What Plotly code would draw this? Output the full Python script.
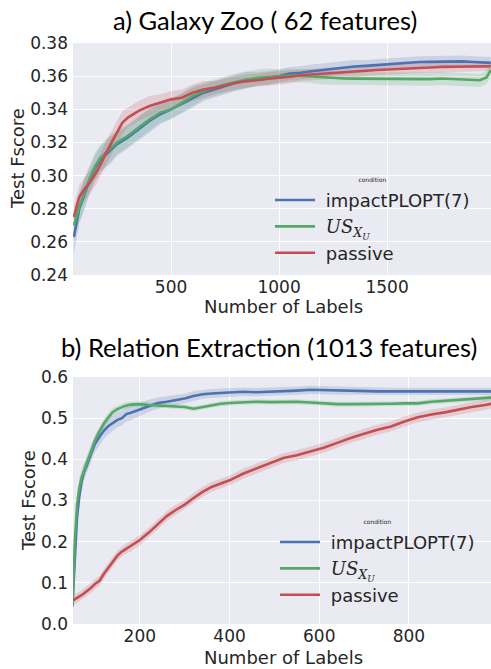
import plotly.graph_objects as go

# ---------------- data: a) Galaxy Zoo ----------------
x_a = [50, 75, 100, 125, 150, 175, 200, 225, 250, 275, 300, 350, 400, 450, 500, 550,
       600, 650, 700, 750, 800, 850, 900, 950, 1000, 1050, 1100, 1150, 1200, 1250, 1300,
       1350, 1400, 1450, 1500, 1550, 1600, 1650, 1700, 1750, 1800, 1850, 1900, 1930, 1960, 1980]
impact_a = [0.263, 0.280, 0.289, 0.298, 0.305, 0.310, 0.313, 0.316, 0.319, 0.321, 0.323, 0.328,
            0.333, 0.337, 0.340, 0.3435, 0.347, 0.350, 0.352, 0.354, 0.356, 0.3575, 0.3585, 0.359,
            0.360, 0.3615, 0.362, 0.363, 0.3638, 0.3645, 0.365, 0.3658, 0.3662, 0.3667, 0.367,
            0.3674, 0.368, 0.3685, 0.3686, 0.3688, 0.3687, 0.3689, 0.3685, 0.3683, 0.3682, 0.368]
us_a = [0.270, 0.281, 0.290, 0.299, 0.306, 0.311, 0.314, 0.317, 0.320, 0.322, 0.324, 0.329,
        0.334, 0.338, 0.340, 0.344, 0.348, 0.351, 0.353, 0.355, 0.3565, 0.358, 0.359, 0.3596,
        0.360, 0.3604, 0.3602, 0.3598, 0.359, 0.3588, 0.3586, 0.3585, 0.3584, 0.3584, 0.3583,
        0.3582, 0.3584, 0.3583, 0.3582, 0.3586, 0.3584, 0.358, 0.3577, 0.3575, 0.3592, 0.3637]
passive_a = [0.275, 0.287, 0.292, 0.296, 0.301, 0.307, 0.314, 0.320, 0.326, 0.332, 0.335, 0.339,
             0.342, 0.344, 0.346, 0.347, 0.350, 0.352, 0.353, 0.3545, 0.356, 0.357, 0.3575, 0.3585,
             0.359, 0.3596, 0.3605, 0.361, 0.3614, 0.362, 0.3622, 0.3627, 0.3632, 0.3637, 0.364,
             0.3642, 0.3646, 0.365, 0.3652, 0.3656, 0.3657, 0.3656, 0.3658, 0.366, 0.3661, 0.366]
impact_a_ci = [0.010, 0.009, 0.009, 0.008, 0.008, 0.008, 0.008, 0.008, 0.007, 0.007, 0.007, 0.007,
               0.007, 0.006, 0.006, 0.006, 0.006, 0.005, 0.005, 0.005, 0.005, 0.005, 0.004, 0.004,
               0.004, 0.004, 0.004, 0.004, 0.004, 0.004, 0.004, 0.004, 0.0035, 0.0035, 0.0035,
               0.0035, 0.0035, 0.0035, 0.0035, 0.0035, 0.0035, 0.0035, 0.0035, 0.0035, 0.0035, 0.0035]
us_a_ci = [0.010, 0.009, 0.009, 0.008, 0.008, 0.008, 0.008, 0.008, 0.007, 0.007, 0.007, 0.007,
           0.007, 0.006, 0.006, 0.006, 0.006, 0.005, 0.005, 0.005, 0.005, 0.005, 0.005, 0.005,
           0.004, 0.004, 0.004, 0.004, 0.004, 0.004, 0.004, 0.004, 0.004, 0.004, 0.004,
           0.004, 0.004, 0.004, 0.004, 0.004, 0.004, 0.004, 0.004, 0.004, 0.004, 0.004]
passive_a_ci = [0.007, 0.007, 0.007, 0.007, 0.007, 0.007, 0.007, 0.007, 0.007, 0.007, 0.006, 0.006,
                0.006, 0.005, 0.005, 0.005, 0.005, 0.005, 0.004, 0.004, 0.004, 0.004, 0.004, 0.004,
                0.004, 0.004, 0.0035, 0.0035, 0.0035, 0.0035, 0.0035, 0.0035, 0.003, 0.003, 0.003,
                0.003, 0.003, 0.003, 0.003, 0.003, 0.003, 0.003, 0.003, 0.003, 0.003, 0.003]

# ---------------- data: b) Relation Extraction ----------------
x_b = [50, 55, 60, 65, 70, 75, 80, 90, 100, 110, 120, 130, 140, 150, 160, 170, 180, 190, 200,
       220, 240, 260, 280, 300, 320, 340, 360, 380, 400, 430, 460, 490, 520, 550, 580, 610,
       640, 670, 700, 730, 760, 790, 820, 850, 880, 910, 940, 970, 985]
impact_b = [0.05, 0.17, 0.26, 0.31, 0.345, 0.368, 0.38, 0.41, 0.438, 0.455, 0.470, 0.481, 0.488,
            0.496, 0.500, 0.510, 0.513, 0.517, 0.521, 0.530, 0.537, 0.540, 0.544, 0.548, 0.554,
            0.558, 0.560, 0.561, 0.562, 0.564, 0.563, 0.564, 0.566, 0.567, 0.569, 0.568, 0.567,
            0.566, 0.566, 0.565, 0.565, 0.565, 0.565, 0.565, 0.565, 0.565, 0.565, 0.565, 0.565]
us_b = [0.042, 0.20, 0.29, 0.33, 0.355, 0.372, 0.385, 0.415, 0.445, 0.468, 0.487, 0.502, 0.515,
        0.522, 0.527, 0.531, 0.533, 0.534, 0.534, 0.532, 0.531, 0.530, 0.529, 0.527, 0.523,
        0.527, 0.532, 0.535, 0.537, 0.539, 0.540, 0.539, 0.539, 0.540, 0.538, 0.536, 0.534,
        0.534, 0.534, 0.535, 0.535, 0.536, 0.536, 0.540, 0.542, 0.544, 0.546, 0.548, 0.550]
passive_b = [0.057, 0.060, 0.062, 0.066, 0.070, 0.074, 0.078, 0.087, 0.097, 0.105, 0.122, 0.136,
             0.152, 0.166, 0.176, 0.183, 0.188, 0.196, 0.204, 0.222, 0.242, 0.262, 0.277, 0.290,
             0.306, 0.321, 0.333, 0.341, 0.349, 0.365, 0.378, 0.390, 0.403, 0.410, 0.419, 0.428,
             0.440, 0.452, 0.462, 0.472, 0.480, 0.492, 0.502, 0.509, 0.514, 0.521, 0.527, 0.532, 0.535]
impact_b_ci = [0.015, 0.03, 0.03, 0.025, 0.022, 0.02, 0.02, 0.02, 0.02, 0.02, 0.02, 0.02, 0.018,
               0.018, 0.018, 0.018, 0.018, 0.016, 0.016, 0.015, 0.014, 0.013, 0.012, 0.012, 0.012,
               0.011, 0.011, 0.011, 0.011, 0.01, 0.01, 0.01, 0.01, 0.01, 0.01, 0.01, 0.01,
               0.01, 0.009, 0.009, 0.009, 0.009, 0.009, 0.009, 0.009, 0.009, 0.009, 0.009, 0.009]
us_b_ci = [0.015, 0.03, 0.03, 0.025, 0.02, 0.018, 0.016, 0.015, 0.014, 0.013, 0.012, 0.011, 0.01,
           0.009, 0.008, 0.008, 0.007, 0.007, 0.007, 0.006, 0.006, 0.006, 0.006, 0.006, 0.006,
           0.006, 0.006, 0.006, 0.006, 0.006, 0.006, 0.006, 0.006, 0.006, 0.006, 0.006, 0.006,
           0.006, 0.006, 0.006, 0.006, 0.006, 0.006, 0.006, 0.006, 0.006, 0.006, 0.006, 0.006]
passive_b_ci = [0.012, 0.012, 0.012, 0.012, 0.012, 0.012, 0.012, 0.012, 0.012, 0.012, 0.012, 0.012,
                0.012, 0.012, 0.012, 0.012, 0.012, 0.012, 0.012, 0.012, 0.012, 0.012, 0.012, 0.012,
                0.012, 0.012, 0.012, 0.012, 0.012, 0.012, 0.012, 0.012, 0.012, 0.012, 0.012, 0.012,
                0.012, 0.012, 0.012, 0.012, 0.012, 0.012, 0.012, 0.012, 0.012, 0.012, 0.012, 0.012, 0.012]

series_names = ["\u00a0impactPLOPT(7)",
                "\u00a0<span style='font-family:DejaVu Serif'><i>US<sub>X<sub>U</sub></sub></i></span>",
                "\u00a0passive"]
colors = ["#4C72B0", "#55A868", "#C44E52"]
band_colors = ["rgba(76,114,176,0.2)", "rgba(85,168,104,0.2)", "rgba(196,78,82,0.2)"]

titles = ["a) Galaxy Zoo ( 62 features)", "b) Relation Extraction (1013 features)"]

W, H = 491, 669
TXT = "#262626"
SANS = "DejaVu Sans"

def px(p):
    return p / W

def py(p):
    return 1 - p / H

fig = go.Figure()

panels = [
    (x_a, [impact_a, us_a, passive_a], [impact_a_ci, us_a_ci, passive_a_ci], "x", "y", "legend"),
    (x_b, [impact_b, us_b, passive_b], [impact_b_ci, us_b_ci, passive_b_ci], "x2", "y2", "legend2"),
]

for xs, ys_list, ci_list, xa, ya, lg in panels:
    for i, (ys, ci) in enumerate(zip(ys_list, ci_list)):
        upper = [v + c for v, c in zip(ys, ci)]
        lower = [v - c for v, c in zip(ys, ci)]
        fig.add_trace(go.Scatter(
            x=list(xs) + list(xs)[::-1], y=upper + lower[::-1],
            fill="toself", fillcolor=band_colors[i], line=dict(width=0),
            mode="lines", hoverinfo="skip", showlegend=False, xaxis=xa, yaxis=ya))
    for i, ys in enumerate(ys_list):
        fig.add_trace(go.Scatter(
            x=xs, y=ys, mode="lines", name=series_names[i],
            line=dict(color=colors[i], width=2.6), xaxis=xa, yaxis=ya, legend=lg))

xdom = [px(73), 1.0]

axis_common = dict(showgrid=True, gridcolor="white", gridwidth=1.2, zeroline=False,
                   showline=False, ticks="", automargin=False,
                   tickfont=dict(family=SANS, size=17, color=TXT))

fig.update_layout(
    width=W, height=H, margin=dict(l=0, r=0, t=0, b=0, pad=0, autoexpand=False),
    paper_bgcolor="white", plot_bgcolor="#EAEAF2",
    xaxis=dict(domain=xdom, anchor="y", range=[46, 1981], tickvals=[500, 1000, 1500], **axis_common),
    yaxis=dict(domain=[py(275), py(43)], anchor="x", range=[0.24, 0.38], dtick=0.02,
               tickformat=".2f", ticklabelstandoff=4, **axis_common),
    xaxis2=dict(domain=xdom, anchor="y2", range=[51, 983], tickvals=[200, 400, 600, 800], **axis_common),
    yaxis2=dict(domain=[py(624), py(377)], anchor="x2", range=[0.0, 0.6], dtick=0.1,
                tickformat=".1f", ticklabelstandoff=4, **axis_common),
    legend=dict(x=px(270), y=py(174), xanchor="left", yanchor="top", bgcolor="rgba(0,0,0,0)",
                font=dict(family=SANS, size=18, color=TXT), itemwidth=40, tracegroupgap=0,
                title=dict(text="condition", side="top center", font=dict(family=SANS, size=6, color=TXT))),
    legend2=dict(x=px(275), y=py(516), xanchor="left", yanchor="top", bgcolor="rgba(0,0,0,0)",
                 font=dict(family=SANS, size=18, color=TXT), itemwidth=40, tracegroupgap=0,
                 title=dict(text="condition", side="top center", font=dict(family=SANS, size=6, color=TXT))),
    showlegend=True,
)

annos = [
    dict(text=titles[0], x=px(265), y=py(20), font=dict(family="Lato", size=25.5, color="black")),
    dict(text=titles[1], x=px(269), y=py(347), font=dict(family="Lato", size=25.5, color="black")),
    dict(text="Number of Labels", x=px(283), y=py(306), font=dict(family=SANS, size=18, color=TXT)),
    dict(text="Number of Labels", x=px(283), y=py(657), font=dict(family=SANS, size=18, color=TXT)),
    dict(text="Test Fscore", x=px(17), y=py(159), textangle=-90, font=dict(family=SANS, size=18, color=TXT)),
    dict(text="Test Fscore", x=px(28), y=py(501), textangle=-90, font=dict(family=SANS, size=18, color=TXT)),
]
for a in annos:
    fig.add_annotation(xref="paper", yref="paper", showarrow=False, xanchor="center", yanchor="middle", **a)

fig.write_html("out.html", config={"displayModeBar": False},
               post_script="document.body.style.margin='0';document.body.style.overflow='hidden';")
